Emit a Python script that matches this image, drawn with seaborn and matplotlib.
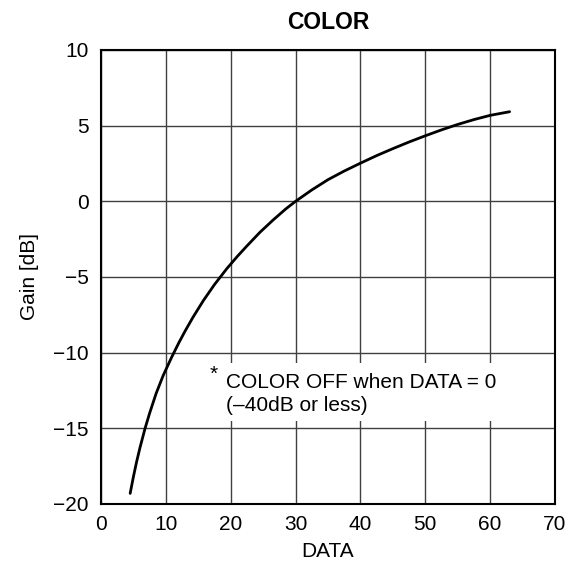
import matplotlib
matplotlib.use("Agg")
import matplotlib.pyplot as plt
import matplotlib.patches as mpatches
import pandas as pd
import seaborn as sns

# curve
data_x = [4.5, 5.0, 5.5, 6.0, 6.8, 7.5, 8.5, 9.6, 10.9, 12.0, 13.0, 14.2,
          15.8, 17.5, 19.4, 21.0, 22.5, 24.5, 26.5, 28.5, 30.0, 32.5, 35.0,
          37.5, 40.0, 42.5, 45.0, 47.5, 50.0, 52.5, 55.0, 57.5, 60.0, 63.0]
gain_db = [-19.3, -18.2, -17.2, -16.3, -15.0, -14.0, -12.7, -11.5, -10.3,
           -9.35, -8.55, -7.65, -6.55, -5.5, -4.45, -3.65, -2.95, -2.05,
           -1.25, -0.5, 0.0, 0.75, 1.43, 2.0, 2.52, 3.02, 3.48, 3.92, 4.33,
           4.72, 5.08, 5.4, 5.68, 5.92]

x_ticks = [0, 10, 20, 30, 40, 50, 60, 70]
y_ticks = [-20, -15, -10, -5, 0, 5, 10]
y_labels = ["\u221220", "\u221215", "\u221210", "\u22125", "0", "5", "10"]

note = "COLOR OFF when DATA = 0\n(\u201340dB or less)"


def main():
    df = pd.DataFrame({"DATA": data_x, "Gain": gain_db})

    sns.set_theme(style="white")
    plt.rcParams["font.family"] = ["Liberation Sans", "DejaVu Sans"]

    fig = plt.figure(figsize=(5.78, 5.68), dpi=100)
    ax = fig.add_axes([0.1747, 0.1127, 0.7855, 0.7993])

    sns.lineplot(data=df, x="DATA", y="Gain", ax=ax, color="black",
                 linewidth=2.0, zorder=5)

    ax.set_xlim(0, 70)
    ax.set_ylim(-20, 10)
    ax.set_xticks(x_ticks)
    ax.set_yticks(y_ticks)
    ax.set_yticklabels(y_labels)
    ax.tick_params(labelsize=15, length=0, colors="black")
    ax.tick_params(axis="y", pad=9)
    ax.tick_params(axis="x", pad=8)
    ax.grid(True, color="#404040", linewidth=1.0)
    ax.set_axisbelow(True)
    for sp in ax.spines.values():
        sp.set_color("black")
        sp.set_linewidth(1.5)

    ax.set_xlabel("DATA", fontsize=15, color="black", labelpad=6)
    ax.set_ylabel("Gain [dB]", fontsize=15, color="black", labelpad=10)
    ax.set_title("COLOR", fontsize=16.5, fontweight="bold", color="black", pad=15)

    # white patch behind the note, breaks the grid lines
    ax.add_patch(mpatches.Rectangle((16.0, -14.5), 48.0, 3.83, facecolor="white",
                                    edgecolor="none", zorder=2))
    ax.text(17.4, -11.8, "*", fontsize=15, ha="center", va="baseline",
            color="black", zorder=3)
    ax.text(19.26, -13.86, note, fontsize=15, ha="left", va="baseline",
            color="black", linespacing=1.25, zorder=3)

    fig.savefig("out.png", dpi=100)


if __name__ == "__main__":
    main()
